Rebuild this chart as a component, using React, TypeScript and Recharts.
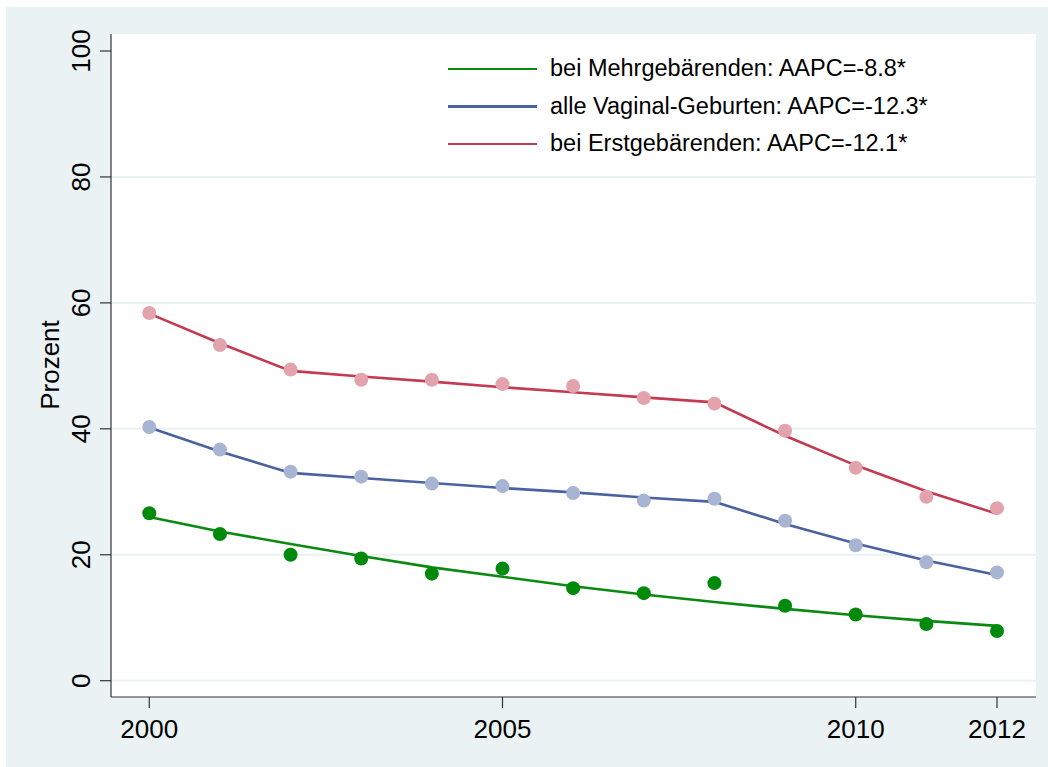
import React from "react";
import {
  ComposedChart,
  Line,
  Scatter,
  XAxis,
  YAxis,
  ReferenceLine,
  CartesianGrid,
} from "recharts";

const years = [2000, 2001, 2002, 2003, 2004, 2005, 2006, 2007, 2008, 2009, 2010, 2011, 2012];

// observed percentages (dots)
const erstObs = [58.4, 53.3, 49.4, 47.8, 47.8, 47.1, 46.8, 44.9, 44.0, 39.7, 33.8, 29.2, 27.4];
const alleObs = [40.3, 36.7, 33.2, 32.4, 31.3, 30.9, 29.8, 28.6, 28.9, 25.4, 21.5, 18.8, 17.2];
const mehrObs = [26.6, 23.3, 20.0, 19.4, 17.0, 17.8, 14.7, 13.9, 15.5, 11.9, 10.5, 9.0, 7.9];

// joinpoint fit (lines)
const erstFit = [58.3, 53.6, 49.2, 48.3, 47.5, 46.6, 45.8, 45.0, 44.2, 38.9, 34.2, 30.1, 26.5];
const alleFit = [40.2, 36.4, 33.0, 32.2, 31.4, 30.6, 29.9, 29.1, 28.4, 24.9, 21.8, 19.1, 16.8];
const mehrFit = [26.0, 23.7, 21.7, 19.8, 18.0, 16.5, 15.0, 13.7, 12.5, 11.4, 10.4, 9.5, 8.7];

const xTicks = [2000, 2005, 2010, 2012];
const yTicks = [0, 20, 40, 60, 80, 100];
const gridValues = [0, 20, 40, 60, 80];

const legendItems = [
  { label: "bei Mehrgebärenden: AAPC=-8.8*", color: "#0b8a12" },
  { label: "alle Vaginal-Geburten: AAPC=-12.3*", color: "#4a62a0" },
  { label: "bei Erstgebärenden: AAPC=-12.1*", color: "#c23b52" },
];

const data = years.map((year, i) => ({
  year,
  erstObs: erstObs[i],
  alleObs: alleObs[i],
  mehrObs: mehrObs[i],
  erstFit: erstFit[i],
  alleFit: alleFit[i],
  mehrFit: mehrFit[i],
}));

const FONT = "'Liberation Sans', Arial, Helvetica, sans-serif";
const BG = "#eaf2f3";

const YTick = (props: any) => {
  const { y, payload } = props;
  return (
    <g>
      <line x1={100} x2={111} y1={y} y2={y} stroke="#333" strokeWidth={1.2} />
      <text
        x={90}
        y={y}
        transform={`rotate(-90, 90, ${y})`}
        textAnchor="middle"
        fontSize={26}
        fontFamily={FONT}
        fill="#000"
      >
        {payload.value}
      </text>
    </g>
  );
};

const XTick = (props: any) => {
  const { x, payload } = props;
  return (
    <g>
      <line x1={x} x2={x} y1={697} y2={708} stroke="#333" strokeWidth={1.2} />
      <text x={x} y={738} textAnchor="middle" fontSize={26} fontFamily={FONT} fill="#000">
        {payload.value}
      </text>
    </g>
  );
};

const dot = (fill: string) => (props: any) => (
  <circle cx={props.cx} cy={props.cy} r={7} fill={fill} />
);

export default function App() {
  return (
    <div style={{ position: "absolute", left: 0, top: 0, width: 1048, height: 767, background: "#fff" }}>
      <div style={{ position: "absolute", left: 6, top: 7, width: 1042, height: 760, background: BG }} />
      <div style={{ position: "absolute", left: 0, top: 0 }}>
        <ComposedChart
          width={1048}
          height={767}
          data={data}
          margin={{ top: 34, right: 12, left: 0, bottom: 0 }}
        >
          <CartesianGrid fill="#fff" horizontal={false} vertical={false} stroke="none" />
          {gridValues.map((v) => (
            <ReferenceLine key={v} y={v} stroke={BG} strokeWidth={2} />
          ))}
          <XAxis
            dataKey="year"
            type="number"
            domain={[1999.458, 2012.552]}
            ticks={xTicks}
            allowDataOverflow
            height={70}
            axisLine={{ stroke: "#333", strokeWidth: 1.2 }}
            tickLine={false}
            tick={<XTick />}
            interval={0}
          />
          <YAxis
            type="number"
            domain={[-2.59, 102.7]}
            ticks={yTicks}
            allowDataOverflow
            width={111}
            axisLine={{ stroke: "#333", strokeWidth: 1.2 }}
            tickLine={false}
            tick={<YTick />}
            interval={0}
          />
          <Scatter dataKey="erstObs" shape={dot("#e3a3ad")} isAnimationActive={false} />
          <Scatter dataKey="alleObs" shape={dot("#a7b4d2")} isAnimationActive={false} />
          <Scatter dataKey="mehrObs" shape={dot("#008a0c")} isAnimationActive={false} />
          <Line
            dataKey="erstFit"
            type="linear"
            stroke="#c23b52"
            strokeWidth={2.6}
            dot={false}
            activeDot={false}
            isAnimationActive={false}
          />
          <Line
            dataKey="alleFit"
            type="linear"
            stroke="#4a62a0"
            strokeWidth={2.6}
            dot={false}
            activeDot={false}
            isAnimationActive={false}
          />
          <Line
            dataKey="mehrFit"
            type="linear"
            stroke="#0b8a12"
            strokeWidth={2.6}
            dot={false}
            activeDot={false}
            isAnimationActive={false}
          />
        </ComposedChart>
      </div>
      <div
        style={{
          position: "absolute",
          left: 50,
          top: 365,
          transform: "translate(-50%, -50%) rotate(-90deg)",
          fontFamily: FONT,
          fontSize: 26,
          lineHeight: "30px",
          whiteSpace: "nowrap",
          color: "#000",
        }}
      >
        Prozent
      </div>
      <div
        style={{
          position: "absolute",
          left: 448,
          top: 50,
          fontFamily: FONT,
          fontSize: 23.5,
          color: "#000",
        }}
      >
        {legendItems.map((item) => (
          <div
            key={item.label}
            style={{ display: "flex", alignItems: "center", height: 37.5, whiteSpace: "nowrap" }}
          >
            <div style={{ width: 89, height: 2.5, background: item.color, marginRight: 13 }} />
            <span>{item.label}</span>
          </div>
        ))}
      </div>
    </div>
  );
}
